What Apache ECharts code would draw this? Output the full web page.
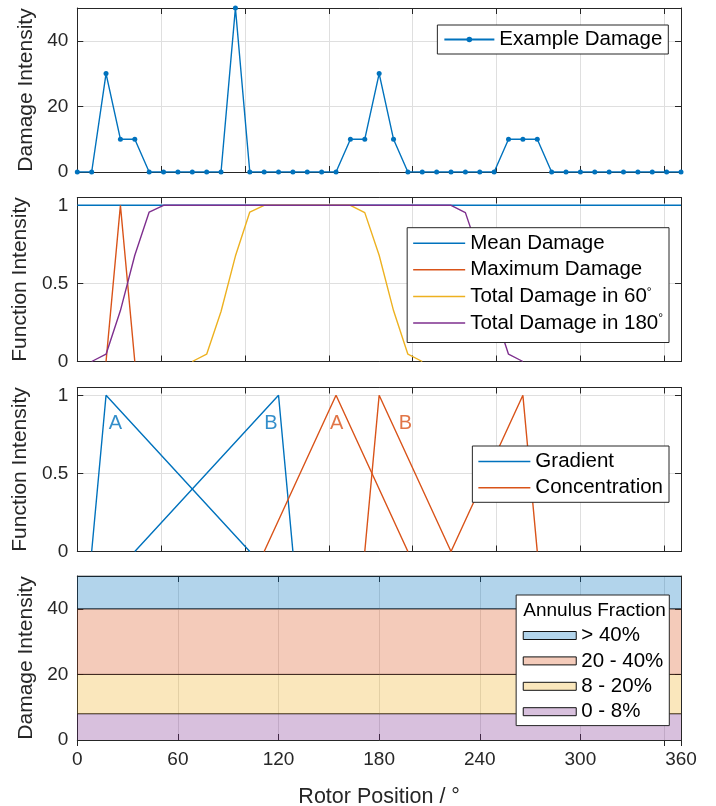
<!DOCTYPE html>
<html>
<head>
<meta charset="utf-8">
<script src="https://cdn.jsdelivr.net/npm/echarts@6/dist/echarts.min.js"></script>
<style>
  html, body { margin: 0; padding: 0; background: #ffffff; }
  #chart { width: 716px; height: 806px; }
</style>
</head>
<body>
<div id="chart"></div>
<script>
// Sample positions around the rotor (degrees), 43 stations
const angles = [0, 8.57, 17.14, 25.71, 34.29, 42.86, 51.43, 60, 68.57, 77.14, 85.71,
  94.29, 102.86, 111.43, 120, 128.57, 137.14, 145.71, 154.29, 162.86, 171.43, 180,
  188.57, 197.14, 205.71, 214.29, 222.86, 231.43, 240, 248.57, 257.14, 265.71, 274.29,
  282.86, 291.43, 300, 308.57, 317.14, 325.71, 334.29, 342.86, 351.43, 360];

// Panel 1: example damage at each station
const exampleDamage = [0, 0, 30, 10, 10, 0, 0, 0, 0, 0, 0, 50, 0, 0, 0, 0, 0, 0, 0,
  10, 10, 30, 10, 0, 0, 0, 0, 0, 0, 0, 10, 10, 10, 0, 0, 0, 0, 0, 0, 0, 0, 0, 0];

// Panel 2: normalised function outputs (null = not drawn)
const meanDamage = [1, 1, 1, 1, 1, 1, 1, 1, 1, 1, 1, 1, 1, 1, 1, 1, 1, 1, 1, 1, 1, 1,
  1, 1, 1, 1, 1, 1, 1, 1, 1, 1, 1, 1, 1, 1, 1, 1, 1, 1, 1, 1, 1];
const maxDamage = [null, null, 0, 1, 0, null, null, null, null, null, null, null, null,
  null, null, null, null, null, null, null, null, null, null, null, null, null, null,
  null, null, null, null, null, null, null, null, null, null, null, null, null, null,
  null, null];
const total60 = [null, null, null, null, null, null, null, null, 0, 0.047, 0.32, 0.675,
  0.957, 1, 1, 1, 1, 1, 1, 1, 0.953, 0.68, 0.326, 0.047, 0, null, null, null, null,
  null, null, null, null, null, null, null, null, null, null, null, null, null, null];
const total180 = [null, 0, 0.047, 0.326, 0.68, 0.957, 1, 1, 1, 1, 1, 1, 1, 1, 1, 1, 1,
  1, 1, 1, 1, 1, 1, 1, 1, 1, 1, 0.953, 0.68, 0.326, 0.047, 0, null, null, null, null,
  null, null, null, null, null, null, null];

// Panel 3: gradient and concentration functions, [angle, intensity]
const gradientA = [[8.57, 0], [17.14, 1], [102.86, 0]];
const gradientB = [[34.29, 0], [120, 1], [128.57, 0]];
const concentrationA = [[111.43, 0], [154.29, 1], [197.14, 0]];
const concentrationB = [[171.43, 0], [180, 1], [222.86, 0], [265.71, 1], [274.29, 0]];
const markerLetters = ['A', 'B', 'A', 'B'];
const markerAngles = [22.8, 115.4, 154.6, 195.6];
const markerLevels = [0.82, 0.82, 0.82, 0.82];
const markerGroups = ['Gradient', 'Gradient', 'Concentration', 'Concentration'];

// Panel 4: annulus fraction bands
const bandNames = ['0 - 8%', '8 - 20%', '20 - 40%', '> 40%'];
const bandLower = [0, 8, 20, 40];
const bandUpper = [8, 20, 40, 50];

// Axis ticks
const xTicksTop = 50;
const xTicksBottom = 60;
const xExtraTick = 350;

const FONT = "'Liberation Sans', Arial, Helvetica, sans-serif";
const AX = '#262626';
const GRID = '#dfdfdf';
const C = ['#0072BD', '#D95319', '#EDB120', '#7E2F8E'];
const BAND_FILL = ['rgba(126,47,142,0.3)', 'rgba(237,177,32,0.3)', 'rgba(217,83,25,0.3)', 'rgba(0,114,189,0.3)'];

const gridTops = [8, 197.5, 387.5, 576];
const grids = gridTops.map(t => ({
  left: 77.3, right: 35, top: t, height: 164, containLabel: false, outerBoundsMode: 'none'
}));

function xAxisPair(gi, interval, labels) {
  const base = {
    type: 'value', gridIndex: gi, min: 0, max: 360, interval: interval,
    axisLine: { show: true, onZero: false, lineStyle: { color: AX, width: 1 } },
    axisTick: { show: true, inside: true, length: 6, lineStyle: { color: AX } },
  };
  return [
    Object.assign({}, base, {
      position: 'bottom',
      axisLabel: { show: labels, color: AX, fontSize: 19, fontFamily: FONT, margin: 10 },
      splitLine: { show: true, lineStyle: { color: GRID, width: 1 } },
      name: labels ? 'Rotor Position / °' : '',
      nameLocation: 'middle', nameGap: 46,
      nameTextStyle: { color: AX, fontSize: 21.5, fontFamily: FONT }
    }),
    Object.assign({}, base, {
      position: 'top',
      axisLabel: { show: false },
      splitLine: { show: false }
    })
  ];
}

function yAxisPair(gi, max, interval, name) {
  const base = {
    type: 'value', gridIndex: gi, min: 0, max: max, interval: interval,
    axisLine: { show: true, onZero: false, lineStyle: { color: AX, width: 1 } },
    axisTick: { show: true, inside: true, length: 6, lineStyle: { color: AX } },
  };
  return [
    Object.assign({}, base, {
      position: 'left',
      axisLabel: { show: true, color: AX, fontSize: 19, fontFamily: FONT, margin: 9, showMaxLabel: false },
      splitLine: { show: true, lineStyle: { color: GRID, width: 1 } },
      name: name, nameLocation: 'middle', nameGap: 40,
      nameTextStyle: { color: AX, fontSize: 21, fontFamily: FONT }
    }),
    Object.assign({}, base, {
      position: 'right',
      axisLabel: { show: false },
      splitLine: { show: false }
    })
  ];
}

const xAxes = [].concat(
  xAxisPair(0, xTicksTop, false),
  xAxisPair(1, xTicksTop, false),
  xAxisPair(2, xTicksTop, false),
  xAxisPair(3, xTicksBottom, true),
  [{
    type: 'value', gridIndex: 3, min: 0, max: 360, interval: xExtraTick, position: 'top',
    axisLine: { show: false },
    axisTick: { show: true, inside: true, length: 6, lineStyle: { color: AX } },
    axisLabel: { show: false },
    splitLine: { show: true, lineStyle: { color: GRID, width: 1 } }
  }]
);

const yAxes = [].concat(
  yAxisPair(0, 50, 20, 'Damage Intensity'),
  yAxisPair(1, 1.05, 0.5, 'Function Intensity'),
  yAxisPair(2, 1.05, 0.5, 'Function Intensity'),
  yAxisPair(3, 50, 20, 'Damage Intensity')
);

const zip = vals => angles.map((a, i) => [a, vals[i]]);

function lineSeries(name, data, color, xi, yi, extra) {
  return Object.assign({
    name: name, type: 'line', xAxisIndex: xi, yAxisIndex: yi, data: data,
    showSymbol: false, symbol: 'none', connectNulls: false, animation: false,
    lineStyle: { color: color, width: 1.4 }, itemStyle: { color: color }
  }, extra || {});
}

const series = [];

// Panel 1
series.push(lineSeries('Example Damage', zip(exampleDamage), C[0], 0, 0,
  { showSymbol: true, symbol: 'circle', symbolSize: 5 }));

// Panel 2
series.push(lineSeries('Mean Damage', zip(meanDamage), C[0], 2, 2));
series.push(lineSeries('Maximum Damage', zip(maxDamage), C[1], 2, 2));
series.push(lineSeries('Total Damage in 60°', zip(total60), C[2], 2, 2));
series.push(lineSeries('Total Damage in 180°', zip(total180), C[3], 2, 2));

// Panel 3
series.push(lineSeries('Gradient', gradientA, C[0], 4, 4));
series.push(lineSeries('Gradient', gradientB, C[0], 4, 4));
series.push(lineSeries('Concentration', concentrationA, C[1], 4, 4));
series.push(lineSeries('Concentration', concentrationB, C[1], 4, 4));
series.push({
  type: 'scatter', xAxisIndex: 4, yAxisIndex: 4, animation: false, silent: true,
  symbolSize: 1, itemStyle: { color: 'rgba(0,0,0,0)' },
  data: markerLetters.map((t, i) => ({
    value: [markerAngles[i], markerLevels[i], t],
    label: { color: markerGroups[i] === 'Gradient' ? C[0] : C[1] }
  })),
  label: {
    show: true, position: 'inside', fontSize: 20, fontFamily: FONT,
    formatter: p => p.value[2]
  }
});

// Panel 4: bands, each filled from its lower to its upper bound
bandNames.forEach((n, i) => {
  series.push({
    name: n, type: 'line', xAxisIndex: 6, yAxisIndex: 6, animation: false,
    data: [[0, bandUpper[i]], [360, bandUpper[i]]],
    showSymbol: false, symbol: 'none', z: 2 + i * 0.01,
    lineStyle: { color: '#111111', width: 1 },
    itemStyle: { color: BAND_FILL[i], borderColor: '#111111', borderWidth: 1 },
    areaStyle: { color: BAND_FILL[i], origin: bandLower[i], opacity: 1 }
  });
});

const legendText = { fontSize: 20.5, color: '#000000', fontFamily: FONT, lineHeight: 20,
  rich: { deg: { fontSize: 12, lineHeight: 20, verticalAlign: 'top', fontFamily: FONT, color: '#000' } } };
const legendBox = { backgroundColor: '#ffffff', borderColor: AX, borderWidth: 1, borderRadius: 0,
  orient: 'vertical', align: 'left', selectedMode: false };

// Plain line samples for legends without markers
const lineItem = (name, color) => ({
  name: name, icon: 'rect', itemStyle: { color: color, borderWidth: 0 }
});

const legends = [
  Object.assign({}, legendBox, {
    right: 47.7, top: 25, padding: [4, 6, 4, 6], itemWidth: 50, itemHeight: 7, itemGap: 5,
    data: ['Example Damage'], textStyle: legendText
  }),
  Object.assign({}, legendBox, {
    right: 47, top: 227.7, padding: [5, 6, 9, 6], itemWidth: 52, itemHeight: 1.5, itemGap: 5.6,
    data: [lineItem('Mean Damage', C[0]), lineItem('Maximum Damage', C[1]),
      lineItem('Total Damage in 60°', C[2]), lineItem('Total Damage in 180°', C[3])],
    textStyle: legendText,
    formatter: n => n.replace('°', '{deg|°}')
  }),
  Object.assign({}, legendBox, {
    right: 47, top: 446, padding: [5, 6, 4, 6], itemWidth: 52, itemHeight: 1.5, itemGap: 5.3,
    data: [lineItem('Gradient', C[0]), lineItem('Concentration', C[1])], textStyle: legendText
  }),
  Object.assign({}, legendBox, {
    right: 46.7, top: 595, padding: [30, 6, 3.4, 6.6], itemWidth: 53, itemHeight: 8, itemGap: 4.4,
    data: ['> 40%', '20 - 40%', '8 - 20%', '0 - 8%'].map(n => ({
      name: n, icon: 'rect',
      itemStyle: { color: BAND_FILL[bandNames.indexOf(n)], borderColor: '#111111', borderWidth: 1 }
    })),
    textStyle: legendText
  })
];

const chart = echarts.init(document.getElementById('chart'), null, { renderer: 'canvas' });
chart.setOption({
  animation: false,
  backgroundColor: '#ffffff',
  textStyle: { fontFamily: FONT },
  grid: grids,
  xAxis: xAxes,
  yAxis: yAxes,
  legend: legends,
  series: series,
  graphic: [{
    type: 'text', left: 523.3, top: 601, z: 100,
    style: { text: 'Annulus Fraction', fontSize: 19, fontFamily: FONT, fill: '#000000' }
  }]
});
</script>
</body>
</html>
